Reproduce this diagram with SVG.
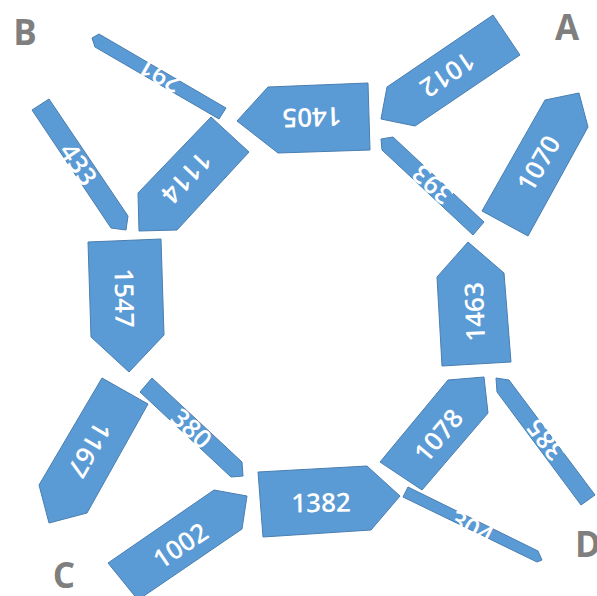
<svg xmlns="http://www.w3.org/2000/svg" width="597" height="596" viewBox="0 0 597 596">
<style>
.s{fill:#5B9BD5;stroke:#4A7EB0;stroke-width:1}
.t{fill:#FFFFFF;font-family:"Open Sans","Liberation Sans",sans-serif;font-weight:600;font-size:26px;text-anchor:middle;dominant-baseline:central}
.l{fill:#7F7F7F;font-family:"Open Sans","Liberation Sans",sans-serif;font-weight:700;font-size:35px;text-anchor:middle}
</style>
<rect width="597" height="596" fill="#FFFFFF"/>
<g id="labels">
<text class="l" x="25" y="45">B</text>
<text class="l" x="567" y="40">A</text>
<text class="l" x="64" y="588">C</text>
<text class="l" x="588" y="557">D</text>
</g>
<g id="connectors"></g>
<g id="n291"><polygon class="s" points="92,38 99,34 226,108 219,119 95,47"/><text class="t" transform="translate(160,76) rotate(210)">291</text></g>
<g id="n433"><polygon class="s" points="32,110 49,99 128,216 126,230 111,228"/><text class="t" transform="translate(79,164) rotate(56)">433</text></g>
<g id="n1114"><polygon class="s" points="211,117 249,152 177,230 139,231 138,193"/><text class="t" transform="translate(187,178) rotate(133)">1114</text></g>
<g id="n1405"><polygon class="s" points="237,121 268,87 368,83 370,150 278,153"/><text class="t" transform="translate(312,118) rotate(178)">1405</text></g>
<g id="n1012"><polygon class="s" points="493,15 520,55 415,126 381,119 387,87"/><text class="t" transform="translate(448,75) rotate(146)">1012</text></g>
<g id="n1070"><polygon class="s" points="545,100 579,93 588,127 528,236 482,211"/><text class="t" transform="translate(538,163) rotate(-60)">1070</text></g>
<g id="n393"><polygon class="s" points="381,139 393,137 484,222 473,235 382,150"/><text class="t" transform="translate(432,185) rotate(222)">393</text></g>
<g id="n1547"><polygon class="s" points="88,242 161,239 164,335 129,372 91,337"/><text class="t" transform="translate(125,298) rotate(89)">1547</text></g>
<g id="n1167"><polygon class="s" points="102,378 148,404 87,513 49,523 39,485"/><text class="t" transform="translate(90,450) rotate(120)">1167</text></g>
<g id="n380"><polygon class="s" points="140,392 152,378 242,462 243,476 231,477"/><text class="t" transform="translate(192,428) rotate(43)">380</text></g>
<g id="n1002"><polygon class="s" points="108,563 214,490 247,496 242,529 138,600"/><text class="t" transform="translate(180,545) rotate(-34)">1002</text></g>
<g id="n1382"><polygon class="s" points="258,472 367,466 400,496 371,530 263,537"/><text class="t" transform="translate(321,502) rotate(-1)">1382</text></g>
<g id="n1463"><polygon class="s" points="468,242 504,273 511,362 442,366 437,277"/><text class="t" transform="translate(474,312) rotate(-92)">1463</text></g>
<g id="n1078"><polygon class="s" points="448,380 484,377 488,413 422,490 380,462"/><text class="t" transform="translate(438,435) rotate(-50)">1078</text></g>
<g id="n385"><polygon class="s" points="496,378 509,380 595,495 581,505 497,392"/><text class="t" transform="translate(545,440) rotate(233)">385</text></g>
<g id="n304"><polygon class="s" points="408,487 403,497 537,562 542,560 538,551"/><text class="t" transform="translate(472,527) rotate(27)">304</text></g>
</svg>
